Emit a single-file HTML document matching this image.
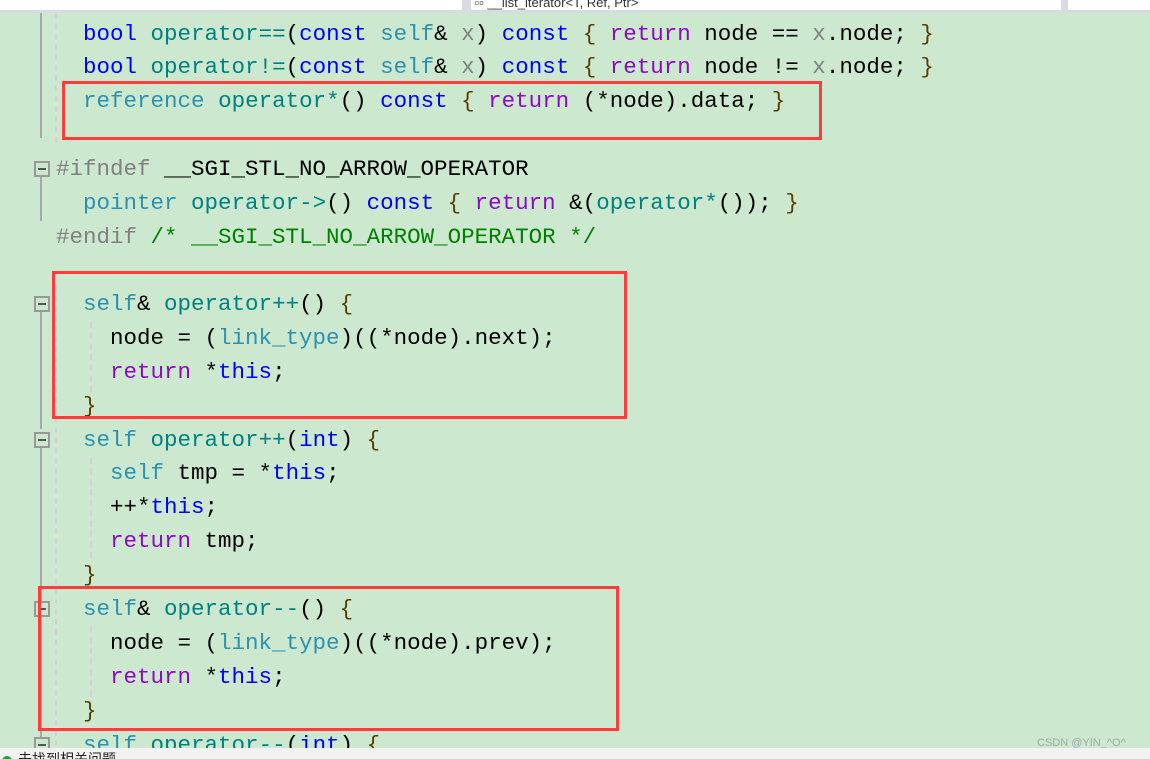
<!DOCTYPE html>
<html><head><meta charset="utf-8"><style>
html,body{margin:0;width:1150px;height:759px;overflow:hidden;}
body{background:#cce8cf;position:relative;font-family:"Liberation Mono",monospace;}
.top{position:absolute;left:0;top:0;width:1150px;height:13px;background:#d8dbe3;}
.top .w1{position:absolute;left:0;top:0;width:462px;height:10px;background:#fff;}
.top .w2{position:absolute;left:471px;top:0;width:590px;height:10px;background:#fff;overflow:hidden;font:13px "Liberation Sans",sans-serif;line-height:6px;color:#333;}
.top .w3{position:absolute;left:1068px;top:0;width:82px;height:10px;background:#fff;}
.l{position:absolute;left:56px;font-size:22.5px;line-height:34px;height:34px;white-space:pre;color:#000;}
.k{color:#0000ff}.t{color:#2b91af}.o{color:#008080}.p{color:#8f08c4}.g{color:#808080}.c{color:#008000}.x{color:#808080}.b{color:#5a3e00}
.box{position:absolute;border:3px solid #ff3b3b;}
.fold{position:absolute;left:34px;width:12px;height:12px;border:2px solid #999;background:#cce8cf;}
.fold:after{content:"";position:absolute;left:2px;top:5px;width:8px;height:2px;background:#555;}
.vl{position:absolute;left:40px;width:2px;background:#a8a8a8;}
.dl{position:absolute;width:0;border-left:2px dashed #d8d0d8;}
.status{position:absolute;left:0;top:748px;width:1150px;height:11px;overflow:hidden;background:#f2f2f2;font:14px "Liberation Sans","Noto Sans CJK SC",sans-serif;line-height:22px;color:#222;}
.wm{position:absolute;left:1037px;top:737px;font:11px "Liberation Sans",sans-serif;color:#9aa;}
</style></head><body>
<div class="top"><div class="w1"></div><div class="w2">&nbsp;▫▫ __list_iterator&lt;T, Ref, Ptr&gt;</div><div class="w3"></div></div>
<div class="vl" style="top:13px;height:125px"></div>
<div class="vl" style="top:176px;height:45px"></div>
<div class="vl" style="top:309px;height:120px"></div>
<div class="vl" style="top:445px;height:300px"></div>
<div class="dl" style="left:55px;top:13px;height:130px"></div>
<div class="dl" style="left:55px;top:286px;height:460px"></div>
<div class="dl" style="left:90px;top:322px;height:70px"></div>
<div class="dl" style="left:90px;top:458px;height:100px"></div>
<div class="dl" style="left:90px;top:627px;height:70px"></div>
<div class="fold" style="top:161px"></div>
<div class="fold" style="top:296px"></div>
<div class="fold" style="top:432px"></div>
<div class="fold" style="top:601px"></div>
<div class="fold" style="top:737px"></div>

<div class="l" style="top:17px">  <span class="k">bool</span> <span class="o">operator==</span>(<span class="k">const</span> <span class="t">self</span>&amp; <span class="x">x</span>) <span class="k">const</span> <span class="b">{</span> <span class="p">return</span> node == <span class="x">x</span>.node; <span class="b">}</span></div>
<div class="l" style="top:50px">  <span class="k">bool</span> <span class="o">operator!=</span>(<span class="k">const</span> <span class="t">self</span>&amp; <span class="x">x</span>) <span class="k">const</span> <span class="b">{</span> <span class="p">return</span> node != <span class="x">x</span>.node; <span class="b">}</span></div>
<div class="l" style="top:84px">  <span class="t">reference</span> <span class="o">operator*</span>() <span class="k">const</span> <span class="b">{</span> <span class="p">return</span> (*node).data; <span class="b">}</span></div>
<div class="l" style="top:152px"><span class="g">#ifndef</span> __SGI_STL_NO_ARROW_OPERATOR</div>
<div class="l" style="top:186px">  <span class="t">pointer</span> <span class="o">operator-&gt;</span>() <span class="k">const</span> <span class="b">{</span> <span class="p">return</span> &amp;(<span class="o">operator*</span>()); <span class="b">}</span></div>
<div class="l" style="top:220px"><span class="g">#endif</span> <span class="c">/* __SGI_STL_NO_ARROW_OPERATOR */</span></div>
<div class="l" style="top:287px">  <span class="t">self</span>&amp; <span class="o">operator++</span>() <span class="b">{</span></div>
<div class="l" style="top:321px">    node = (<span class="t">link_type</span>)((*node).next);</div>
<div class="l" style="top:355px">    <span class="p">return</span> *<span class="k">this</span>;</div>
<div class="l" style="top:389px">  <span class="b">}</span></div>
<div class="l" style="top:423px">  <span class="t">self</span> <span class="o">operator++</span>(<span class="k">int</span>) <span class="b">{</span></div>
<div class="l" style="top:456px">    <span class="t">self</span> tmp = *<span class="k">this</span>;</div>
<div class="l" style="top:490px">    ++*<span class="k">this</span>;</div>
<div class="l" style="top:524px">    <span class="p">return</span> tmp;</div>
<div class="l" style="top:558px">  <span class="b">}</span></div>
<div class="l" style="top:592px">  <span class="t">self</span>&amp; <span class="o">operator--</span>() <span class="b">{</span></div>
<div class="l" style="top:626px">    node = (<span class="t">link_type</span>)((*node).prev);</div>
<div class="l" style="top:660px">    <span class="p">return</span> *<span class="k">this</span>;</div>
<div class="l" style="top:694px">  <span class="b">}</span></div>
<div class="l" style="top:728px">  <span class="t">self</span> <span class="o">operator--</span>(<span class="k">int</span>) <span class="b">{</span></div>

<div class="box" style="left:62px;top:81px;width:754px;height:53px"></div>
<div class="box" style="left:52px;top:271px;width:569px;height:142px"></div>
<div class="box" style="left:38px;top:586px;width:575px;height:139px"></div>
<div class="wm">CSDN @YIN_^O^</div>
<div class="status"><span style="display:inline-block;width:10px;height:10px;border-radius:50%;background:#2a9d3a;margin:0 6px 0 2px;vertical-align:-2px"></span>未找到相关问题</div>
</body></html>
